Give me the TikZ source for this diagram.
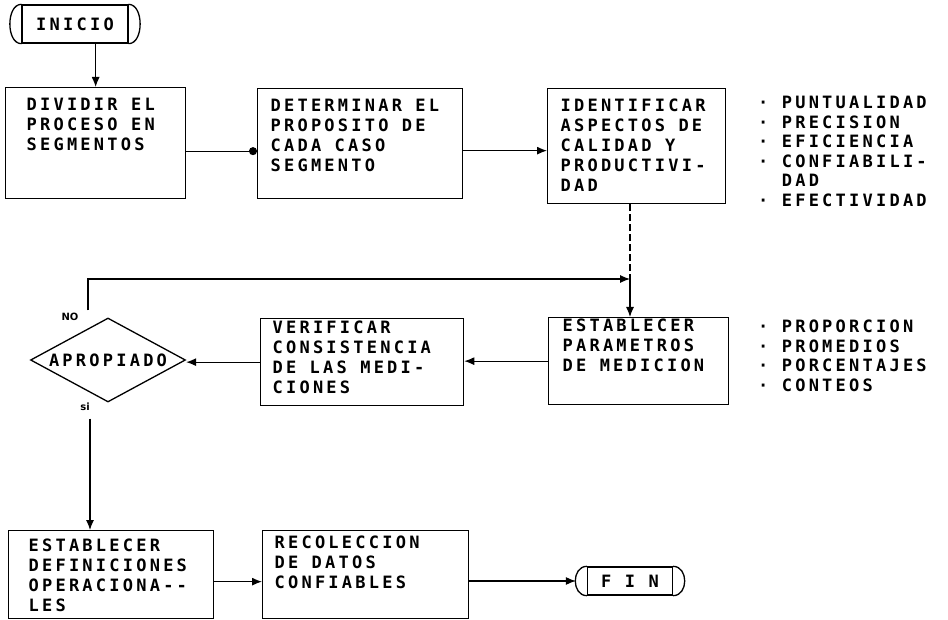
\documentclass[tikz,border=0pt]{standalone}
\usepackage{fontspec}
\setmonofont[LetterSpace=19]{DejaVu Sans Mono}
\newfontfamily\tagfont{DejaVu Sans}
\usetikzlibrary{arrows.meta,shapes.geometric}

\newcommand\maquina[1]{\ttfamily\bfseries\fontsize{17}{#1}\selectfont}

\tikzset{
  espacio/.style={execute at begin node={\spaceskip=13.4pt\relax}},
  proc/.style={draw, line width=1.3pt, anchor=north west, align=left, espacio, inner xsep=12pt, inner ysep=0pt, text height=23pt},
  lista/.style={anchor=base west, align=left, espacio, inner sep=0pt, text width=190pt, font=\maquina{19.5}},
  term/.style={draw, line width=1.3pt, inner sep=0pt},
  flecha/.style={line width=1.1pt, -{Latex[length=10pt,width=8pt]}},
  tag/.style={inner sep=0pt, font=\tagfont\bfseries\fontsize{10}{11}\selectfont}
}

\begin{document}
\begin{tikzpicture}[x=1pt, y=-1pt, font=\maquina{20}]
        \useasboundingbox (0,0) rectangle (948,620);
        \node[term, minimum width=106pt, minimum height=38pt] (inicio) at (75,24) {INICIO};
        \draw[line width=1.3pt] (inicio.north west) to[out=180,in=180] (inicio.south west);
        \draw[line width=1.3pt] (inicio.north east) to[out=0,in=0] (inicio.south east);
        \node[proc, inner xsep=21pt, text width=138pt, text depth=88pt] (dividir) at (5,87) {DIVIDIR EL\\PROCESO EN\\SEGMENTOS};
        \node[proc, inner xsep=13pt, text width=179pt, text depth=87pt] (proposito) at (257,88) {DETERMINAR EL\\PROPOSITO DE\\CADA CASO\\SEGMENTO};
        \node[proc, inner xsep=13pt, text width=152pt, text depth=92pt] (aspectos) at (547,88) {IDENTIFICAR\\ASPECTOS DE\\CALIDAD Y\\PRODUCTIVI-\\DAD};
        \node[lista] (cualidades) at (758,109) {·~PUNTUALIDAD\\·~PRECISION\\·~EFICIENCIA\\·~CONFIABILI-\\\phantom{·~}DAD\\·~EFECTIVIDAD};
        \node[proc, inner xsep=14pt, text width=152pt, text height=14pt, text depth=73pt] (parametros) at (548,317) {ESTABLECER\\PARAMETROS\\DE MEDICION};
        \node[lista] (medidas) at (758,333) {·~PROPORCION\\·~PROMEDIOS\\·~PORCENTAJES\\·~CONTEOS};
        \node[proc, text width=179pt, text height=15pt, text depth=72pt] (verificar) at (260,318) {VERIFICAR\\CONSISTENCIA\\DE LAS MEDI-\\CIONES};
        \node[draw, diamond, aspect=1.85, minimum width=155pt, minimum height=84pt, inner sep=0pt, line width=1.3pt] (apropiado) at (108,360) {APROPIADO};
        \node[tag] (no) at (70,317) {NO};
        \node[tag] (si) at (85,407) {si};
        \node[proc, inner xsep=20pt, text width=165pt, text height=21pt, text depth=67pt] (definiciones) at (8,530) {ESTABLECER\\DEFINICIONES\\OPERACIONA--\\LES};
        \node[proc, text width=182pt, text height=18pt, text depth=70pt] (recoleccion) at (262,530) {RECOLECCION\\DE DATOS\\CONFIABLES};
        \node[term, minimum width=85pt, minimum height=28pt] (fin) at (630,581) {F I N};
        \draw[line width=1.3pt] (fin.north west) to[out=180,in=180,looseness=1.35] (fin.south west);
        \draw[line width=1.3pt] (fin.north east) to[out=0,in=0,looseness=1.35] (fin.south east);
        \coordinate (cruce) at (630,279);
        \draw[flecha] (dividir.north |- inicio.south) -- (dividir.north);
        \draw[line width=1.1pt, -{Circle[length=8pt]}] ([yshift=-8pt]dividir.east) -- ([yshift=-8pt]dividir.east -| proposito.west);
        \draw[flecha] ([yshift=-7pt]proposito.east) -- ([yshift=-7pt]proposito.east -| aspectos.west);
        \draw[line width=1.1pt, dash pattern=on 7pt off 3pt] (aspectos.south -| cruce) -- (cruce);
        \draw[flecha] (cruce) -- (cruce |- parametros.north);
        \draw[flecha] ([xshift=-20pt,yshift=7pt]apropiado.north) -- ([xshift=-20pt]apropiado.north |- cruce) -- (cruce);
        \draw[flecha] (parametros.west) -- (parametros.west -| verificar.east);
        \draw[flecha] (verificar.west) -- (verificar.west -| apropiado.east);
        \draw[flecha] ([xshift=-18pt,yshift=-16pt]apropiado.south) -- ([xshift=-18pt]apropiado.south |- definiciones.north);
        \draw[flecha] ([yshift=-7pt]definiciones.east) -- ([yshift=-7pt]definiciones.east -| recoleccion.west);
        \draw[flecha] (recoleccion.east |- fin.west) -- ([xshift=-11pt]fin.west);
    \end{tikzpicture}
\end{document}
